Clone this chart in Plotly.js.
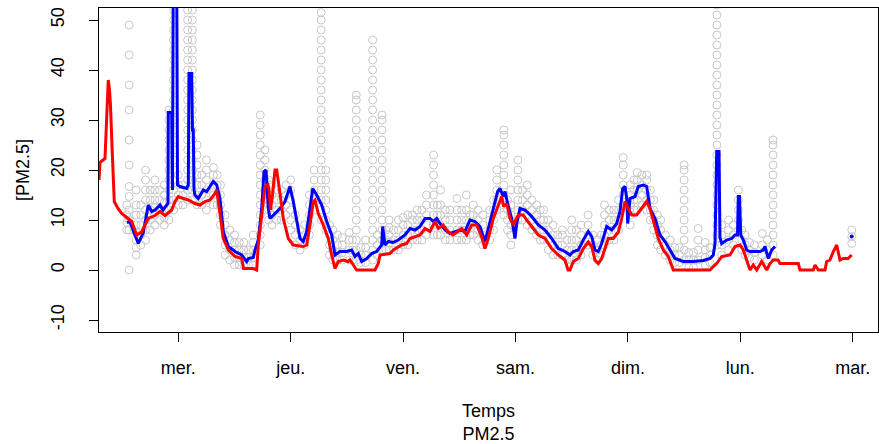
<!DOCTYPE html>
<html>
<head>
<meta charset="utf-8">
<script src="https://cdn.plot.ly/plotly-3.0.1.min.js"></script>
<style>html,body{margin:0;padding:0;background:#fff;}#chart{width:879px;height:444px;}</style>
</head>
<body>
<div id="chart"></div>
<script>
// x = hours since Wednesday 00:00
const dayTicks = [0, 24, 48, 72, 96, 120, 144];
const dayLabels = ["mer.", "jeu.", "ven.", "sam.", "dim.", "lun.", "mar."];
const yTicks = [-10, 0, 10, 20, 30, 40, 50];

const redHours = [-16.93,-16.72,-15.65,-15.33,-15.12,-14.95,-14.69,-14.48,-14.16,-13.67,-12.88,-12.09,-11.38,-10.68,-9.95,-8.88,-7.81,-7.11,-6.41,-4.97,-3.91,-2.84,-1.41,-0.70,0,1.07,2.14,3.57,4.63,5.70,6.77,7.84,8.20,8.90,9.61,10.68,12.11,13.54,13.92,15.95,16.74,17.08,17.81,18.51,19.15,19.37,19.69,20.11,20.65,21.01,21.72,22.42,23.49,24.55,26.69,27.42,28.12,28.83,29.19,29.89,30.96,32.03,32.75,33.46,34.16,35.23,36.23,36.66,37.37,38.09,42.00,42.70,43.07,45.20,45.91,47.70,48.77,49.47,51.61,52.68,53.74,54.81,55.52,56.52,57.65,58.65,59.51,60.51,61.58,62.65,63.72,64.78,65.49,66.19,67.26,68.33,69.05,69.44,70.12,70.83,71.53,72.60,73.66,74.39,75.80,76.87,78.30,79.73,81.14,82.57,83.21,83.64,84.34,85.41,86.48,87.54,88.27,88.97,89.68,90.40,91.11,91.81,92.88,93.95,94.68,95.38,96.08,96.81,97.88,98.95,100.01,100.72,101.42,102.49,103.56,104.62,105.69,113.53,114.23,114.96,116.03,117.80,118.87,119.94,120.64,121.37,122.07,122.77,123.50,124.57,125.64,126.34,127.04,128.05,128.48,132.38,132.74,135.59,135.95,136.65,138.08,138.45,139.15,139.86,140.58,141.29,141.99,143.00,143.79];
const redValues = [18,21.5,22.3,30,33,38,36,33,25,13.7,12.3,11.3,10.8,10.3,9.7,7,7.6,9,10.3,10.9,11.7,10.9,12,13.7,14.7,14.3,14,13.3,13,13.7,14,15.3,16,11.3,6.3,4,2.7,2.3,0.3,0.3,0,5,11.3,16.7,17,16,12,15,20,20,15.3,10.3,6.3,5,4.7,5,9,13.7,14,11.3,9,6.3,3,0.3,1.7,2,1.7,2,1,0,0,1.3,3,3.3,4,5,5.3,6.3,7,8.3,7.7,9.7,8.3,9,7.6,7,7.6,8.3,7,9,9,6.6,4.3,6.3,10.3,12.7,14.7,12.7,13.3,10.3,9,11,11,10,8.3,7,6.3,4.3,3,2,0,0,1.7,2.3,4.3,5.6,4.7,2,1.3,2.3,4.3,6.3,6.3,7.6,10.3,13.7,12.3,11,11,12.3,13.7,12.3,9.7,6.3,4,2.7,0,0,0.7,1.3,2.7,3,4.7,5,4,2,0,1,0,1.7,0,1.3,2,2,1.3,1.3,0,0,1,0,0,1.7,2,3.7,5,2,2.3,2.3,3];

const blueHours = [-10.95,-10.31,-9.67,-8.54,-7.47,-6.41,-5.68,-4.97,-3.91,-3.27,-2.48,-2.20,-2.14,-1.41,-1.24,-1.07,-0.34,-0.17,0.36,1.79,2.14,2.28,2.86,3.03,3.20,3.35,3.57,4.27,5.34,6.06,6.77,7.47,8.20,8.90,9.61,10.68,12.11,13.54,14.60,14.95,16.01,16.38,17.08,17.81,18.30,18.73,19.22,19.58,20.65,21.72,22.78,23.85,24.55,25.28,25.99,26.69,27.42,28.12,28.70,29.55,30.62,31.69,32.75,33.46,34.53,35.96,37.02,37.73,38.43,39.16,40.23,41.29,42.36,43.43,43.64,44.13,44.84,45.84,46.97,48.40,49.47,50.54,51.61,52.68,53.74,54.45,55.17,55.88,56.95,58.01,59.08,60.15,61.22,62.28,63.35,64.42,65.49,66.19,67.26,68.20,68.69,69.39,69.76,70.46,71.19,71.89,72.26,72.96,74.03,75.46,76.87,78.30,79.73,81.14,82.57,83.64,84.34,85.41,86.48,87.54,88.27,88.97,89.68,90.40,91.47,92.54,93.61,94.31,94.89,95.38,95.75,95.96,96.45,97.52,98.22,99.29,100.01,100.72,101.79,102.85,103.92,104.99,106.06,107.83,109.96,112.10,113.53,114.23,114.60,114.96,115.45,115.66,116.03,117.10,118.16,118.87,119.40,119.57,119.83,120.09,120.64,121.37,122.07,124.21,124.85,125.28,125.98,126.70,127.41];
const blueValues = [9.5,9.7,8,5.3,7.5,13,11.7,12,13,12,13,13.3,31.5,31.5,16,60,60,17,16.7,16.3,17,39.3,39.3,28,28,16,15,14.3,16,15.7,16.7,17.7,17,14.3,7.7,4.7,3.7,3,1.7,2.3,2.5,4,6,12.3,19.7,20,12.3,10.3,11.3,12.3,13.7,16.7,13.7,10.3,6.3,5.7,7.7,12.3,16.3,15,13,9.7,7,3,3.7,3.7,4,2.7,3.3,1.7,2.3,3.3,3.7,5,8.7,5,5.7,5.5,6,7,8.3,8,8.7,10.3,10.3,9.7,10.3,9.3,8,7.3,7.7,8,7.7,10,9.7,8.7,5.7,8.3,12.7,15.7,16.3,14.7,15.7,12.7,10.3,6.3,9.3,12.3,12,10.7,9,8,6.3,4.3,3.7,3,3.7,4,6,7.7,6.7,4,3.7,5.3,8.7,8,9.3,11.7,16.3,16.7,14.3,9.3,14.3,14.7,16.7,17,16.7,12.3,10.3,7,5.7,4,2.3,1.7,1.7,1.9,2.3,3,5.3,23.7,23.7,6.5,5.3,6,6.3,7,7,14.7,14.7,7,6,4,3.7,3.7,4,4.7,2.3,4,4.7];

const blueLoneHour = [143.79];
const blueLoneValue = [6.7];

const grayHours = [-11,-10.5,-9,-8,-7,-6,-5,-4,-3,-2,-1,0,1,2,3,4,5,6,7.5,8.3,9,10,11,12,13,14,15,16,17.5,18.5,19.3,20,21,22,23,24,25,26,27,28,29,30.5,31.5,32.3,33,34,35,36.5,37.2,38,39,40,41.5,42.5,43.5,44.3,45,46,47,48,49,50,51,52,53,54.5,55.3,56,57,58,59.5,60.5,61.5,62.3,63,64,65,66.5,67.3,68,69.5,70.3,71,72.5,73.5,74.5,75.5,76.5,77.3,78,79,80,81,82,83,84,85,86,87.5,88.5,89.5,90.3,91,92,93,94,95,96.5,97.3,98,99,100,100.8,101.5,102.3,103,104,105,106,107,108,109,110,111,112.5,113.5,115,116,117.5,118.5,119.6,120.3,121,122,123,124.7,125.8,127,143.8];
const grayValues = [
 [8,9.5,11,13],
 [0,8,10,12,14.7,16.7,21,26,32,37,43,49],
 [3,4.5,6,7.5,9,11,13,16],
 [5,7,9,11,13],
 [6,8,10,12,14,16,18,20],
 [8,10,12,14,16],
 [9,11,12.5,14,16,18],
 [10,12,14,16],
 [9,10.5,12,13.5,15,17],
 [10,12,14,16,18,20,22,24,26,28,30,32],
 [12,14,16,18,20,22,24,26,28,30,32,34,36,38,40,42,44,46,48,50,52],
 [13,15,17,19],
 [13,15,17],
 [14,16,18,20,22,24,26,28,30,32,34,36,38,40,42,44,46,48,50,52],
 [14,16,18,20,22,24,26,28,30,32,34,36,38,40,42,44,46,48,50,52],
 [13,15,17,19,21,23,25],
 [13,15,17,19],
 [12,14,16,18,20,22],
 [13,15,17,19,20.5],
 [13,15,17,19],
 [9,11,13,15,17],
 [3,5,7,9,11],
 [2,4,6,8],
 [1,2.5,4,5.5,7],
 [1,2.5,4,5.5],
 [1,2.5,4,5.5],
 [1,2.5,4],
 [1,2.5,4,5.5,7],
 [5,7,9,11,13,15,17,19,21,23,25,27,29,31],
 [12,14,16,18,20,22,24],
 [10,12,14,16,18],
 [9,11,13,15,17],
 [10,12,14,16],
 [10,12,14,16],
 [11,13,15,17],
 [8,10,12,14,16,18],
 [5,7,9,11],
 [4,6,8],
 [5,7,9],
 [7,9,11,13,15],
 [12,14,16,18,20],
 [10,12,14,16,18,20,22,24,26,28,30,32,34,36,38,40,42,44,46,48,50,51.5],
 [8,10,12,14,16,18,20],
 [3,5,7,9],
 [2,4,6,8],
 [2,3.5,5,7],
 [2,3.5,5,6.5],
 [2,4,6,7.5],
 [2,4,6],
 [2,4,6,8,10,12,14,16,18,20,22,24,26,28,30,32,34,35],
 [1.5,3,4.5],
 [1.5,3,4.5,6],
 [2,4,6,8,10,12,14,16,18,20,22,24,26,28,30,32,34,36,38,40,42,44,46],
 [3,5,7],
 [4,6,8,10,12,14,16,18,20,22,24,26,28,30,31],
 [4,6,8],
 [4,5.5,7,8.5,10],
 [4,6,8],
 [4,6,8,10],
 [5,7,9,10.5],
 [5,7,9,11],
 [6,8,10,11],
 [6,8,10,12],
 [6,8,10,12],
 [7,9,11,13,15],
 [7,9,11,13,15,17,19,21,23],
 [7,9,11,13],
 [7,9,11,13,16],
 [6,8,10,12],
 [6,8,10,12],
 [6,8,10,12,14.3],
 [6,8,10,12],
 [6,8,10,12,15],
 [7,9,11],
 [7,9,11,13],
 [6,8,10,12],
 [5,7,9,11],
 [6,8,10,12],
 [8,10,12,14],
 [12,14,16,18,20],
 [11,13,15,17,19,21,23,25,27,28],
 [8,10,12,14],
 [5,7,9,11,13,16],
 [10,12,14,16,18,20,22],
 [10,12,14,16],
 [9,11,13,15,17],
 [8,10,12,14],
 [7,9,11,13],
 [6,8,10,12],
 [6,8,10,12],
 [4,6,8,10],
 [3,5,7,9],
 [3,5,7],
 [3,5,7,8],
 [2,4,6],
 [2,4,6,8,10],
 [2,4,6,8],
 [3,5,7,9],
 [5,7,9,11],
 [3,5,7],
 [2,4,6],
 [3,5,7],
 [5,7,9,11,13],
 [6,8,10,12],
 [6,8,10,12],
 [8,10,12,14],
 [13,15,17,19,21,22.5],
 [9,11,13,15,17],
 [12,14,16,18],
 [12,14,16,18,19.5],
 [13,15,17,19],
 [12,14,16,18,19],
 [10,12,14,16],
 [8,10,12,14],
 [5,7,9,11],
 [4,6,8,10],
 [3,5,7],
 [2,4,6],
 [1.5,3,4.5],
 [1.5,3,4.5],
 [2,4,6,8,10,12,14,16,18,20,21],
 [0.5,2,3.5],
 [0.5,2,3.5],
 [2,4,6,8.3],
 [1,2.5,4,5.5],
 [1.5,3,4.5],
 [5,7,9,11,13,15,17,19,21,23,25,27,29,31,33,35,37,39,41,43,45,47,49,51,53],
 [3,5,7,9],
 [4,6,8,10],
 [5,7,9],
 [8,10,12,14,16],
 [4,6,8],
 [3,5,7],
 [2.5,4,5.5],
 [2,3.5,5],
 [3,5,7.3],
 [2,4,6],
 [3,5,7,9,11,13,15,17,19,21,23,25,26],
 [5.3,6.7,8]
];

const gx = [], gy = [];
grayHours.forEach((h, i) => grayValues[i].forEach(v => { gx.push(h); gy.push(v); }));

const fontFam = '"Liberation Sans", Arial, sans-serif';

const traces = [
  { x: gx, y: gy, type: 'scatter', mode: 'markers', hoverinfo: 'skip',
    marker: { symbol: 'circle-open', size: 8, color: '#c8c8c8', line: { width: 1, color: '#c8c8c8' } } },
  { x: blueHours, y: blueValues, type: 'scatter', mode: 'lines',
    line: { color: '#0000ff', width: 3 } },
  { x: redHours, y: redValues, type: 'scatter', mode: 'lines',
    line: { color: '#ff0000', width: 3 } },
  { x: blueLoneHour, y: blueLoneValue, type: 'scatter', mode: 'markers',
    marker: { color: '#0000ff', size: 4 } }
];

const axisCommon = {
  showline: true, mirror: true, linecolor: '#000', linewidth: 1,
  ticks: 'outside', ticklen: 9, tickcolor: '#000', tickwidth: 1,
  showgrid: false, zeroline: false,
  tickfont: { family: fontFam, size: 18, color: '#000' }
};

const layout = {
  width: 879, height: 444,
  margin: { l: 99, r: 1, t: 8, b: 112 },
  paper_bgcolor: '#fff', plot_bgcolor: '#fff',
  showlegend: false,
  font: { family: fontFam, color: '#000' },
  xaxis: Object.assign({}, axisCommon, {
    range: [-16.93, 149.4],
    tickvals: dayTicks, ticktext: dayLabels,
    ticklabelstandoff: 10,
    title: { text: 'Temps<br>PM2.5', font: { family: fontFam, size: 18, color: '#000' }, standoff: 29 }
  }),
  yaxis: Object.assign({}, axisCommon, {
    range: [-12.4, 52.4],
    tickvals: yTicks, ticktext: yTicks.map(String),
    tickangle: -90,
    ticklabelstandoff: 18,
    title: { text: '[PM2.5]', font: { family: fontFam, size: 18, color: '#000' }, standoff: 13 }
  })
};

Plotly.newPlot('chart', traces, layout, { staticPlot: true, displayModeBar: false });
</script>
</body>
</html>
